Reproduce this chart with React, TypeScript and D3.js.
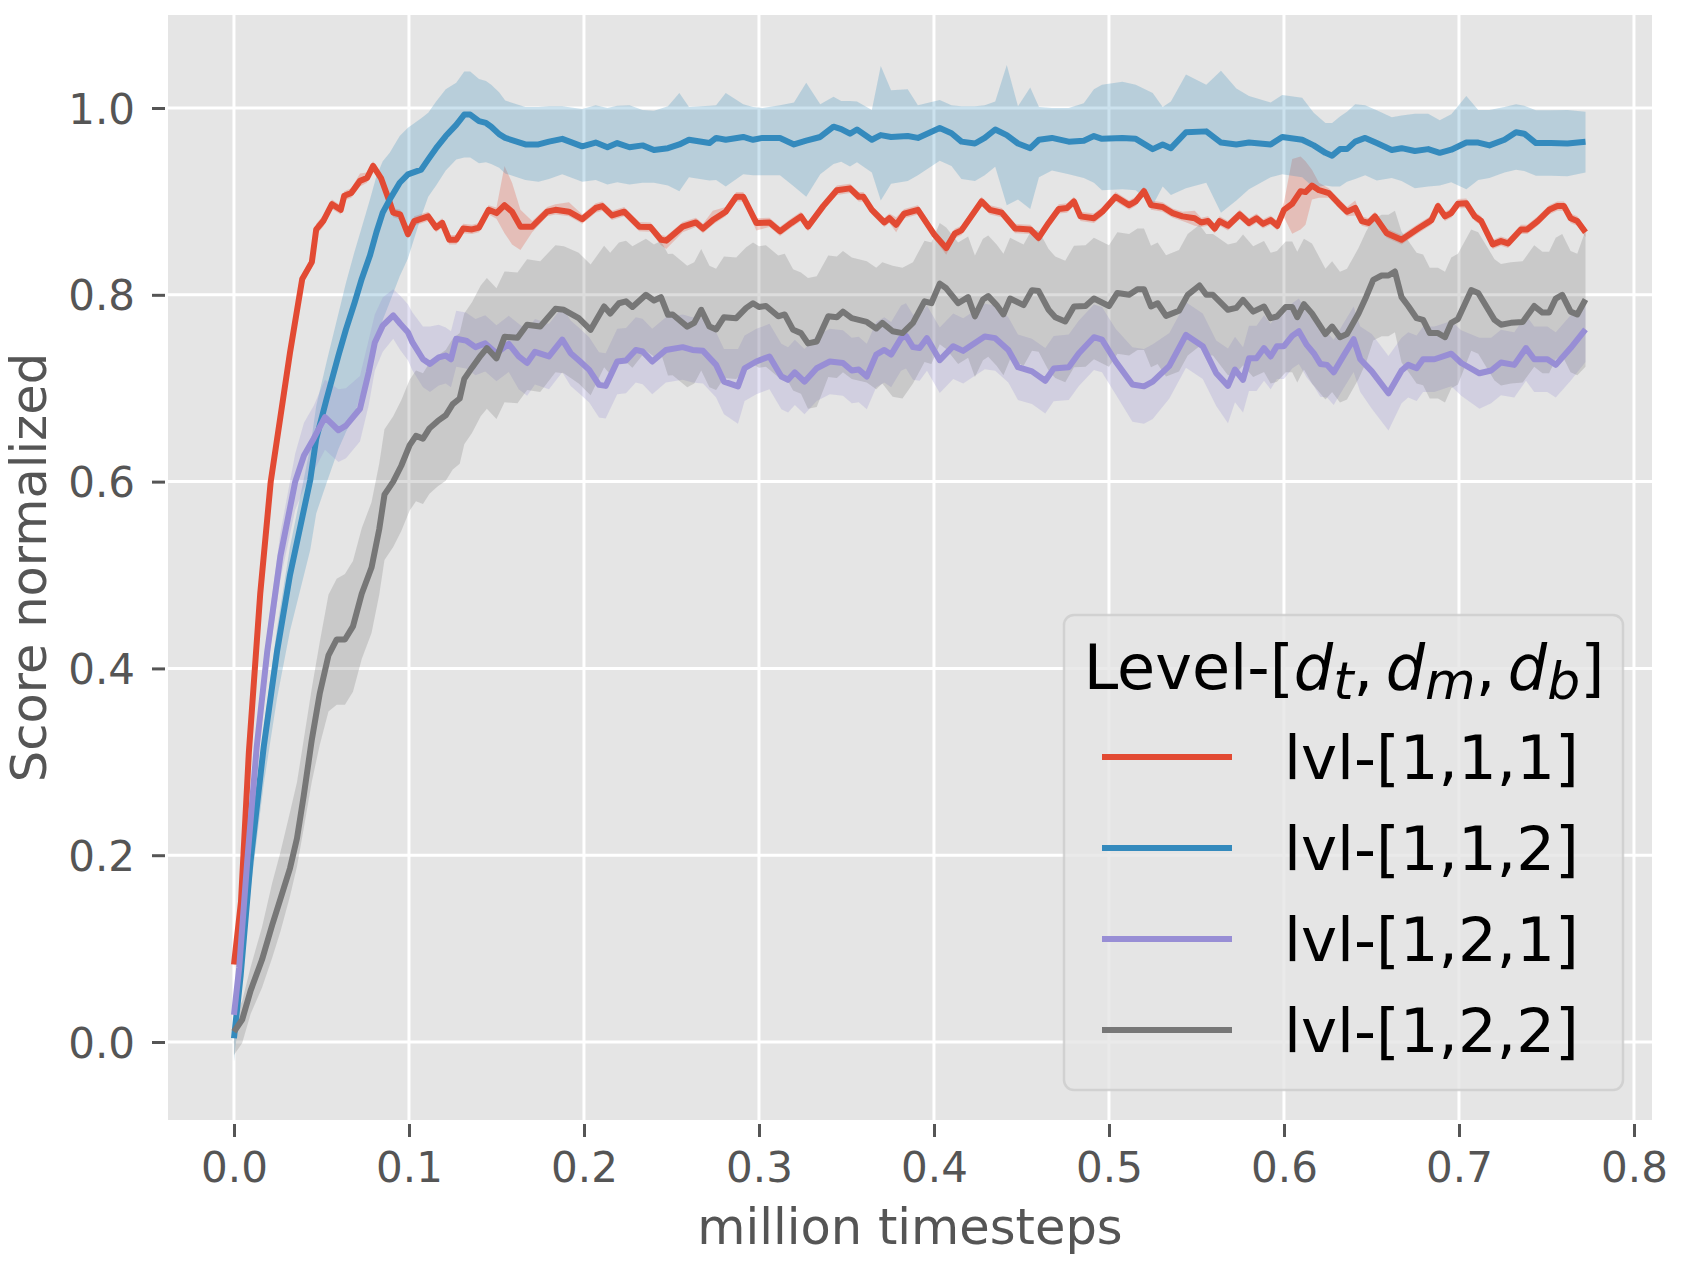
import React, { useEffect, useRef } from 'react'
import * as d3 from 'd3'

// [million timesteps, mean score, spread below, spread above]
type Pt = [number, number, number, number]

const lvl111: Pt[] = [
  [0, 0.083, 0.004, 0.004], [0.004, 0.15, 0.005, 0.005], [0.0085, 0.31, 0.005, 0.005],
  [0.015, 0.48, 0.005, 0.005], [0.021, 0.6, 0.005, 0.005], [0.032, 0.738, 0.005, 0.005],
  [0.039, 0.817, 0.005, 0.005], [0.0445, 0.835, 0.006, 0.006], [0.047, 0.87, 0.006, 0.006],
  [0.051, 0.879, 0.006, 0.006], [0.056, 0.897, 0.005, 0.005], [0.061, 0.891, 0.005, 0.005],
  [0.063, 0.906, 0.005, 0.005], [0.067, 0.909, 0.005, 0.005], [0.072, 0.922, 0.006, 0.008],
  [0.076, 0.925, 0.005, 0.006], [0.0795, 0.938, 0.005, 0.005], [0.084, 0.925, 0.005, 0.005],
  [0.089, 0.899, 0.005, 0.005], [0.091, 0.888, 0.005, 0.005], [0.095, 0.886, 0.005, 0.005],
  [0.0994, 0.865, 0.005, 0.005], [0.103, 0.879, 0.005, 0.005], [0.111, 0.884, 0.005, 0.005],
  [0.1155, 0.872, 0.005, 0.005], [0.119, 0.877, 0.005, 0.005], [0.123, 0.859, 0.005, 0.005],
  [0.127, 0.859, 0.005, 0.005], [0.131, 0.871, 0.005, 0.005], [0.136, 0.87, 0.005, 0.005],
  [0.14, 0.872, 0.005, 0.005], [0.1455, 0.891, 0.005, 0.005], [0.15, 0.8875, 0.006, 0.006],
  [0.1546, 0.896, 0.03, 0.042], [0.1589, 0.889, 0.035, 0.031], [0.1637, 0.873, 0.025, 0.018],
  [0.1704, 0.873, 0.006, 0.006], [0.179, 0.889, 0.005, 0.005], [0.1837, 0.891, 0.005, 0.006],
  [0.1914, 0.889, 0.005, 0.01], [0.199, 0.881, 0.005, 0.005], [0.2067, 0.893, 0.005, 0.005],
  [0.2105, 0.895, 0.005, 0.005], [0.216, 0.885, 0.005, 0.005], [0.223, 0.889, 0.005, 0.005],
  [0.2316, 0.873, 0.005, 0.005], [0.238, 0.8725, 0.005, 0.005], [0.244, 0.859, 0.006, 0.005],
  [0.247, 0.858, 0.009, 0.005], [0.2564, 0.873, 0.006, 0.005], [0.264, 0.8775, 0.005, 0.005],
  [0.268, 0.871, 0.005, 0.005], [0.2736, 0.88, 0.005, 0.01], [0.281, 0.889, 0.005, 0.005],
  [0.287, 0.905, 0.005, 0.005], [0.291, 0.905, 0.005, 0.005], [0.2985, 0.877, 0.008, 0.005],
  [0.306, 0.8775, 0.005, 0.005], [0.312, 0.868, 0.005, 0.005], [0.3185, 0.877, 0.005, 0.005],
  [0.324, 0.884, 0.005, 0.005], [0.328, 0.873, 0.005, 0.005], [0.3367, 0.895, 0.005, 0.005],
  [0.3445, 0.912, 0.005, 0.005], [0.352, 0.914, 0.005, 0.005], [0.357, 0.905, 0.005, 0.005],
  [0.3597, 0.905, 0.005, 0.005], [0.3645, 0.891, 0.005, 0.005], [0.3716, 0.8775, 0.005, 0.005],
  [0.3745, 0.882, 0.005, 0.005], [0.3784, 0.875, 0.008, 0.008], [0.383, 0.887, 0.005, 0.005],
  [0.3908, 0.891, 0.005, 0.005], [0.4004, 0.864, 0.005, 0.005], [0.407, 0.85, 0.007, 0.005],
  [0.4119, 0.8657, 0.005, 0.005], [0.4157, 0.869, 0.005, 0.005], [0.4272, 0.9, 0.005, 0.005],
  [0.432, 0.891, 0.005, 0.005], [0.4387, 0.888, 0.005, 0.005], [0.4464, 0.871, 0.005, 0.005],
  [0.455, 0.87, 0.005, 0.005], [0.4598, 0.861, 0.005, 0.005], [0.4655, 0.877, 0.005, 0.005],
  [0.4713, 0.892, 0.005, 0.005], [0.476, 0.893, 0.005, 0.005], [0.48, 0.9, 0.005, 0.005],
  [0.4837, 0.884, 0.005, 0.005], [0.4914, 0.882, 0.005, 0.005], [0.4962, 0.889, 0.005, 0.005],
  [0.5038, 0.905, 0.005, 0.005], [0.5115, 0.896, 0.005, 0.005], [0.5153, 0.9, 0.005, 0.005],
  [0.52, 0.911, 0.005, 0.005], [0.524, 0.896, 0.005, 0.005], [0.5307, 0.894, 0.005, 0.005],
  [0.5364, 0.8875, 0.005, 0.005], [0.542, 0.884, 0.005, 0.005], [0.549, 0.882, 0.008, 0.008],
  [0.5527, 0.8775, 0.005, 0.005], [0.5566, 0.879, 0.005, 0.005], [0.5604, 0.871, 0.005, 0.005],
  [0.5632, 0.879, 0.005, 0.005], [0.568, 0.874, 0.005, 0.005], [0.5747, 0.886, 0.005, 0.005],
  [0.58, 0.877, 0.005, 0.005], [0.5843, 0.882, 0.005, 0.005], [0.588, 0.876, 0.005, 0.005],
  [0.5924, 0.88, 0.005, 0.005], [0.5962, 0.874, 0.005, 0.005], [0.6, 0.891, 0.008, 0.008],
  [0.6047, 0.8975, 0.032, 0.048], [0.6095, 0.911, 0.041, 0.037], [0.6123, 0.91, 0.035, 0.033],
  [0.616, 0.917, 0.015, 0.017], [0.62, 0.912, 0.008, 0.008], [0.6256, 0.909, 0.005, 0.005],
  [0.6312, 0.898, 0.005, 0.005], [0.636, 0.889, 0.005, 0.005], [0.6407, 0.893, 0.008, 0.008],
  [0.6445, 0.879, 0.005, 0.005], [0.6483, 0.877, 0.005, 0.005], [0.652, 0.884, 0.005, 0.005],
  [0.6587, 0.866, 0.005, 0.005], [0.6672, 0.859, 0.005, 0.005], [0.6767, 0.871, 0.005, 0.005],
  [0.6843, 0.88, 0.005, 0.005], [0.688, 0.895, 0.005, 0.005], [0.692, 0.884, 0.005, 0.005],
  [0.6956, 0.8875, 0.005, 0.005], [0.6994, 0.8975, 0.005, 0.005], [0.7042, 0.898, 0.005, 0.005],
  [0.709, 0.884, 0.005, 0.005], [0.7127, 0.879, 0.005, 0.005], [0.7193, 0.854, 0.005, 0.005],
  [0.724, 0.8575, 0.005, 0.005], [0.728, 0.855, 0.005, 0.005], [0.7354, 0.87, 0.005, 0.005],
  [0.739, 0.87, 0.005, 0.005], [0.745, 0.879, 0.005, 0.005], [0.7515, 0.891, 0.005, 0.005],
  [0.7562, 0.895, 0.005, 0.005], [0.76, 0.895, 0.005, 0.005], [0.7638, 0.882, 0.005, 0.005],
  [0.7676, 0.879, 0.005, 0.005], [0.7723, 0.867, 0.005, 0.005],
]

const lvl112: Pt[] = [
  [0, 0.004, 0.025, 0.01], [0.0038, 0.071, 0.025, 0.015], [0.0095, 0.194, 0.03, 0.02],
  [0.017, 0.316, 0.04, 0.02], [0.0246, 0.418, 0.05, 0.025], [0.032, 0.5, 0.06, 0.03],
  [0.0436, 0.602, 0.075, 0.035], [0.047, 0.646, 0.08, 0.035], [0.053, 0.689, 0.09, 0.04],
  [0.0597, 0.735, 0.1, 0.045], [0.064, 0.763, 0.11, 0.05], [0.069, 0.792, 0.12, 0.055],
  [0.073, 0.817, 0.12, 0.055], [0.0777, 0.842, 0.125, 0.06], [0.0814, 0.867, 0.12, 0.06],
  [0.085, 0.888, 0.115, 0.055], [0.089, 0.902, 0.11, 0.05], [0.0947, 0.92, 0.1, 0.05],
  [0.0994, 0.929, 0.09, 0.05], [0.107, 0.934, 0.05, 0.055], [0.111, 0.945, 0.04, 0.05],
  [0.1155, 0.957, 0.04, 0.05], [0.121, 0.97, 0.037, 0.05], [0.127, 0.982, 0.037, 0.045],
  [0.1316, 0.993, 0.046, 0.046], [0.135, 0.993, 0.046, 0.046], [0.14, 0.986, 0.045, 0.045],
  [0.144, 0.984, 0.042, 0.045], [0.147, 0.98, 0.04, 0.045], [0.1515, 0.972, 0.036, 0.045],
  [0.155, 0.968, 0.038, 0.04], [0.1665, 0.961, 0.038, 0.04], [0.174, 0.961, 0.04, 0.04],
  [0.18, 0.964, 0.04, 0.038], [0.1876, 0.967, 0.038, 0.035], [0.199, 0.959, 0.038, 0.04],
  [0.2067, 0.963, 0.04, 0.04], [0.2134, 0.958, 0.04, 0.042], [0.219, 0.9625, 0.042, 0.04],
  [0.226, 0.958, 0.04, 0.045], [0.2335, 0.96, 0.04, 0.038], [0.24, 0.955, 0.035, 0.042],
  [0.248, 0.957, 0.04, 0.045], [0.2545, 0.961, 0.05, 0.055], [0.26, 0.966, 0.04, 0.035],
  [0.2717, 0.9625, 0.04, 0.04], [0.2755, 0.968, 0.045, 0.035], [0.281, 0.966, 0.05, 0.05],
  [0.291, 0.969, 0.04, 0.035], [0.2966, 0.966, 0.038, 0.035], [0.302, 0.968, 0.04, 0.032],
  [0.312, 0.968, 0.04, 0.035], [0.32, 0.961, 0.045, 0.045], [0.327, 0.965, 0.06, 0.062],
  [0.335, 0.969, 0.04, 0.035], [0.3426, 0.98, 0.04, 0.032], [0.347, 0.9775, 0.035, 0.03],
  [0.352, 0.9725, 0.035, 0.035], [0.356, 0.977, 0.035, 0.03], [0.3645, 0.966, 0.035, 0.032],
  [0.3696, 0.971, 0.07, 0.074], [0.3755, 0.969, 0.05, 0.05], [0.385, 0.97, 0.048, 0.05],
  [0.3908, 0.968, 0.04, 0.035], [0.4033, 0.9786, 0.035, 0.03], [0.41, 0.973, 0.035, 0.03],
  [0.4157, 0.964, 0.04, 0.038], [0.4234, 0.962, 0.04, 0.04], [0.429, 0.968, 0.04, 0.035],
  [0.435, 0.977, 0.04, 0.03], [0.4416, 0.971, 0.075, 0.075], [0.448, 0.962, 0.06, 0.04],
  [0.455, 0.957, 0.065, 0.065], [0.46, 0.966, 0.04, 0.035], [0.4674, 0.968, 0.035, 0.032],
  [0.477, 0.964, 0.035, 0.036], [0.4856, 0.965, 0.04, 0.04], [0.4914, 0.97, 0.05, 0.05],
  [0.496, 0.967, 0.055, 0.058], [0.5077, 0.968, 0.055, 0.06], [0.5153, 0.967, 0.055, 0.058],
  [0.525, 0.956, 0.06, 0.06], [0.5307, 0.961, 0.045, 0.04], [0.5354, 0.957, 0.05, 0.05],
  [0.544, 0.974, 0.06, 0.062], [0.5556, 0.975, 0.055, 0.05], [0.564, 0.963, 0.075, 0.077],
  [0.5728, 0.961, 0.06, 0.06], [0.58, 0.963, 0.05, 0.05], [0.5924, 0.961, 0.035, 0.045],
  [0.599, 0.969, 0.04, 0.045], [0.6104, 0.966, 0.04, 0.045], [0.617, 0.96, 0.045, 0.035],
  [0.6237, 0.952, 0.035, 0.032], [0.6275, 0.949, 0.033, 0.035], [0.632, 0.956, 0.04, 0.035],
  [0.636, 0.956, 0.035, 0.04], [0.6407, 0.964, 0.04, 0.04], [0.6464, 0.968, 0.04, 0.035],
  [0.653, 0.9625, 0.04, 0.035], [0.6616, 0.955, 0.03, 0.035], [0.6672, 0.957, 0.035, 0.035],
  [0.6748, 0.954, 0.04, 0.04], [0.6824, 0.956, 0.04, 0.038], [0.689, 0.952, 0.035, 0.035],
  [0.6956, 0.9554, 0.035, 0.038], [0.7042, 0.963, 0.05, 0.05], [0.711, 0.963, 0.04, 0.035],
  [0.7174, 0.96, 0.035, 0.038], [0.726, 0.966, 0.035, 0.035], [0.7326, 0.974, 0.04, 0.03],
  [0.7373, 0.9725, 0.04, 0.03], [0.744, 0.9625, 0.035, 0.035], [0.7525, 0.9625, 0.035, 0.035],
  [0.762, 0.962, 0.035, 0.036], [0.7723, 0.964, 0.033, 0.032],
]

const lvl121: Pt[] = [
  [0, 0.029, 0.01, 0.01], [0.003, 0.08, 0.012, 0.012], [0.0076, 0.194, 0.015, 0.015],
  [0.013, 0.316, 0.018, 0.018], [0.019, 0.418, 0.02, 0.02], [0.0265, 0.52, 0.025, 0.025],
  [0.035, 0.6, 0.03, 0.03], [0.04, 0.628, 0.035, 0.035], [0.0455, 0.646, 0.035, 0.035],
  [0.052, 0.669, 0.035, 0.04], [0.0597, 0.655, 0.034, 0.044], [0.064, 0.66, 0.035, 0.04],
  [0.072, 0.678, 0.035, 0.035], [0.077, 0.717, 0.035, 0.035], [0.0805, 0.749, 0.03, 0.03],
  [0.085, 0.767, 0.028, 0.03], [0.091, 0.778, 0.025, 0.028], [0.095, 0.769, 0.028, 0.03],
  [0.0994, 0.76, 0.03, 0.03], [0.102, 0.749, 0.03, 0.032], [0.108, 0.731, 0.03, 0.035],
  [0.112, 0.726, 0.03, 0.04], [0.117, 0.733, 0.03, 0.035], [0.121, 0.735, 0.03, 0.03],
  [0.124, 0.731, 0.03, 0.03], [0.127, 0.753, 0.03, 0.03], [0.1326, 0.751, 0.03, 0.03],
  [0.138, 0.744, 0.03, 0.03], [0.1436, 0.748, 0.03, 0.03], [0.15, 0.7375, 0.03, 0.03],
  [0.157, 0.7475, 0.03, 0.03], [0.1627, 0.734, 0.035, 0.035], [0.1675, 0.727, 0.035, 0.035],
  [0.172, 0.739, 0.035, 0.035], [0.18, 0.734, 0.035, 0.035], [0.1876, 0.752, 0.035, 0.035],
  [0.1924, 0.7375, 0.035, 0.035], [0.197, 0.73, 0.035, 0.035], [0.203, 0.7196, 0.035, 0.035],
  [0.2086, 0.7036, 0.035, 0.035], [0.2124, 0.7025, 0.035, 0.035], [0.219, 0.7286, 0.035, 0.035],
  [0.224, 0.7296, 0.035, 0.035], [0.2296, 0.741, 0.035, 0.035], [0.2335, 0.7393, 0.035, 0.035],
  [0.239, 0.7286, 0.035, 0.035], [0.2468, 0.741, 0.035, 0.035], [0.2564, 0.744, 0.035, 0.035],
  [0.262, 0.741, 0.035, 0.035], [0.268, 0.74, 0.035, 0.035], [0.2755, 0.725, 0.035, 0.035],
  [0.28, 0.7071, 0.035, 0.035], [0.288, 0.702, 0.04, 0.04], [0.2918, 0.7214, 0.035, 0.035],
  [0.2985, 0.7286, 0.035, 0.035], [0.306, 0.734, 0.035, 0.035], [0.3128, 0.7125, 0.035, 0.035],
  [0.3166, 0.709, 0.035, 0.035], [0.3205, 0.717, 0.035, 0.035], [0.326, 0.707, 0.035, 0.035],
  [0.333, 0.7214, 0.035, 0.035], [0.3405, 0.7286, 0.035, 0.035], [0.348, 0.727, 0.035, 0.035],
  [0.353, 0.719, 0.035, 0.035], [0.357, 0.72, 0.035, 0.035], [0.3616, 0.7125, 0.035, 0.035],
  [0.367, 0.736, 0.035, 0.035], [0.3716, 0.741, 0.035, 0.035], [0.3755, 0.736, 0.035, 0.035],
  [0.3812, 0.7536, 0.035, 0.035], [0.384, 0.756, 0.035, 0.035], [0.388, 0.744, 0.035, 0.035],
  [0.3918, 0.743, 0.035, 0.035], [0.396, 0.7536, 0.035, 0.035], [0.4033, 0.73, 0.035, 0.035],
  [0.411, 0.745, 0.035, 0.035], [0.4167, 0.74, 0.035, 0.035], [0.429, 0.7554, 0.035, 0.035],
  [0.435, 0.7536, 0.035, 0.035], [0.4425, 0.741, 0.035, 0.035], [0.448, 0.7225, 0.035, 0.035],
  [0.456, 0.718, 0.035, 0.035], [0.4636, 0.708, 0.035, 0.035], [0.4684, 0.721, 0.035, 0.035],
  [0.477, 0.7225, 0.035, 0.035], [0.4828, 0.7375, 0.035, 0.035], [0.4914, 0.7546, 0.035, 0.035],
  [0.496, 0.752, 0.035, 0.035], [0.5038, 0.7286, 0.035, 0.035], [0.5134, 0.704, 0.04, 0.04],
  [0.52, 0.702, 0.04, 0.04], [0.525, 0.707, 0.04, 0.04], [0.5345, 0.724, 0.035, 0.035],
  [0.544, 0.757, 0.035, 0.035], [0.5536, 0.745, 0.035, 0.035], [0.5613, 0.716, 0.035, 0.035],
  [0.568, 0.7025, 0.04, 0.04], [0.572, 0.72, 0.035, 0.035], [0.5766, 0.709, 0.035, 0.035],
  [0.58, 0.732, 0.035, 0.035], [0.5843, 0.732, 0.035, 0.035], [0.5886, 0.743, 0.035, 0.035],
  [0.5924, 0.734, 0.035, 0.035], [0.596, 0.745, 0.035, 0.035], [0.6, 0.745, 0.035, 0.035],
  [0.6047, 0.756, 0.035, 0.035], [0.6085, 0.761, 0.035, 0.035], [0.613, 0.7464, 0.035, 0.035],
  [0.617, 0.7375, 0.035, 0.035], [0.6208, 0.726, 0.035, 0.035], [0.6246, 0.725, 0.035, 0.035],
  [0.6284, 0.717, 0.035, 0.035], [0.634, 0.7346, 0.035, 0.035], [0.6398, 0.7525, 0.035, 0.035],
  [0.6436, 0.731, 0.035, 0.035], [0.6502, 0.718, 0.04, 0.04], [0.6597, 0.6946, 0.04, 0.04],
  [0.6672, 0.719, 0.035, 0.035], [0.671, 0.725, 0.035, 0.035], [0.6758, 0.7214, 0.035, 0.035],
  [0.6795, 0.731, 0.035, 0.035], [0.686, 0.731, 0.035, 0.035], [0.6956, 0.737, 0.035, 0.035],
  [0.7013, 0.727, 0.035, 0.035], [0.7117, 0.716, 0.038, 0.038], [0.7184, 0.719, 0.035, 0.035],
  [0.724, 0.7275, 0.035, 0.035], [0.7316, 0.725, 0.035, 0.035], [0.7383, 0.743, 0.035, 0.035],
  [0.743, 0.731, 0.035, 0.035], [0.7505, 0.731, 0.035, 0.035], [0.7553, 0.725, 0.035, 0.035],
  [0.7638, 0.743, 0.035, 0.035], [0.7723, 0.763, 0.035, 0.025],
]

const lvl122: Pt[] = [
  [0, 0.011, 0.025, 0.015], [0.0047, 0.024, 0.025, 0.02], [0.0095, 0.055, 0.025, 0.025],
  [0.016, 0.088, 0.03, 0.035], [0.0218, 0.125, 0.035, 0.045], [0.0265, 0.153, 0.035, 0.05],
  [0.032, 0.186, 0.03, 0.06], [0.036, 0.218, 0.03, 0.06], [0.0398, 0.263, 0.035, 0.06],
  [0.0445, 0.324, 0.045, 0.055], [0.049, 0.373, 0.055, 0.055], [0.054, 0.414, 0.06, 0.065],
  [0.0587, 0.431, 0.07, 0.065], [0.0634, 0.431, 0.07, 0.07], [0.068, 0.445, 0.07, 0.07],
  [0.073, 0.48, 0.07, 0.07], [0.0786, 0.508, 0.07, 0.07], [0.083, 0.549, 0.07, 0.07],
  [0.086, 0.586, 0.07, 0.07], [0.091, 0.6, 0.07, 0.07], [0.0956, 0.617, 0.07, 0.07],
  [0.1004, 0.639, 0.07, 0.07], [0.104, 0.649, 0.07, 0.07], [0.108, 0.646, 0.07, 0.07],
  [0.1117, 0.657, 0.07, 0.07], [0.1165, 0.665, 0.07, 0.07], [0.121, 0.671, 0.07, 0.07],
  [0.125, 0.683, 0.07, 0.07], [0.129, 0.689, 0.07, 0.07], [0.1316, 0.71, 0.07, 0.07],
  [0.136, 0.722, 0.07, 0.07], [0.141, 0.735, 0.065, 0.075], [0.1445, 0.743, 0.065, 0.075],
  [0.15, 0.732, 0.065, 0.075], [0.1546, 0.755, 0.07, 0.07], [0.162, 0.754, 0.07, 0.07],
  [0.1675, 0.768, 0.07, 0.07], [0.175, 0.766, 0.07, 0.07], [0.1837, 0.785, 0.068, 0.068],
  [0.1885, 0.784, 0.068, 0.068], [0.197, 0.775, 0.07, 0.07], [0.2038, 0.7625, 0.07, 0.07],
  [0.2115, 0.7875, 0.065, 0.065], [0.215, 0.78, 0.065, 0.065], [0.22, 0.791, 0.065, 0.065],
  [0.224, 0.793, 0.065, 0.065], [0.2277, 0.787, 0.065, 0.065], [0.2354, 0.8, 0.06, 0.06],
  [0.24, 0.794, 0.06, 0.06], [0.244, 0.7975, 0.06, 0.06], [0.248, 0.7786, 0.065, 0.065],
  [0.2507, 0.779, 0.065, 0.065], [0.259, 0.766, 0.065, 0.065], [0.263, 0.77, 0.065, 0.065],
  [0.267, 0.784, 0.065, 0.065], [0.2717, 0.766, 0.065, 0.065], [0.2755, 0.763, 0.065, 0.065],
  [0.28, 0.776, 0.065, 0.065], [0.287, 0.775, 0.065, 0.065], [0.2927, 0.786, 0.065, 0.065],
  [0.2966, 0.791, 0.065, 0.065], [0.3, 0.787, 0.065, 0.065], [0.304, 0.788, 0.065, 0.065],
  [0.311, 0.777, 0.065, 0.065], [0.3147, 0.779, 0.065, 0.065], [0.3195, 0.7625, 0.065, 0.065],
  [0.324, 0.759, 0.065, 0.065], [0.328, 0.748, 0.07, 0.07], [0.333, 0.75, 0.07, 0.07],
  [0.3396, 0.777, 0.065, 0.065], [0.3445, 0.776, 0.065, 0.065], [0.348, 0.782, 0.065, 0.065],
  [0.353, 0.775, 0.065, 0.065], [0.3616, 0.771, 0.065, 0.065], [0.367, 0.764, 0.065, 0.065],
  [0.3705, 0.77, 0.065, 0.065], [0.3764, 0.761, 0.07, 0.07], [0.382, 0.759, 0.07, 0.07],
  [0.388, 0.77, 0.065, 0.065], [0.3946, 0.793, 0.065, 0.065], [0.3985, 0.791, 0.065, 0.065],
  [0.4033, 0.812, 0.065, 0.065], [0.407, 0.807, 0.065, 0.065], [0.4138, 0.791, 0.065, 0.065],
  [0.4195, 0.7975, 0.065, 0.065], [0.4234, 0.777, 0.065, 0.065], [0.428, 0.795, 0.065, 0.065],
  [0.431, 0.7986, 0.065, 0.065], [0.4358, 0.789, 0.065, 0.065], [0.4397, 0.779, 0.065, 0.065],
  [0.4435, 0.796, 0.065, 0.065], [0.4512, 0.789, 0.065, 0.065], [0.456, 0.805, 0.065, 0.065],
  [0.4598, 0.804, 0.065, 0.065], [0.4655, 0.784, 0.065, 0.065], [0.4693, 0.776, 0.065, 0.065],
  [0.475, 0.7714, 0.065, 0.065], [0.48, 0.7875, 0.065, 0.065], [0.4866, 0.788, 0.065, 0.065],
  [0.4914, 0.796, 0.065, 0.065], [0.5, 0.788, 0.065, 0.065], [0.5048, 0.802, 0.065, 0.065],
  [0.5115, 0.8, 0.065, 0.065], [0.5163, 0.806, 0.065, 0.065], [0.52, 0.806, 0.065, 0.065],
  [0.524, 0.7875, 0.065, 0.065], [0.5278, 0.791, 0.065, 0.065], [0.5326, 0.7775, 0.065, 0.065],
  [0.54, 0.783, 0.065, 0.065], [0.545, 0.8, 0.065, 0.065], [0.5517, 0.81, 0.065, 0.065],
  [0.5556, 0.8, 0.065, 0.065], [0.5594, 0.8, 0.065, 0.065], [0.568, 0.784, 0.07, 0.07],
  [0.5728, 0.786, 0.07, 0.07], [0.5766, 0.7946, 0.07, 0.07], [0.5824, 0.782, 0.07, 0.07],
  [0.5886, 0.7875, 0.07, 0.07], [0.5924, 0.775, 0.07, 0.07], [0.596, 0.7768, 0.07, 0.07],
  [0.601, 0.787, 0.07, 0.07], [0.6047, 0.787, 0.07, 0.07], [0.6076, 0.776, 0.07, 0.07],
  [0.6114, 0.79, 0.07, 0.07], [0.616, 0.78, 0.075, 0.075], [0.6237, 0.758, 0.07, 0.07],
  [0.6275, 0.766, 0.07, 0.07], [0.632, 0.7546, 0.07, 0.07], [0.636, 0.758, 0.07, 0.07],
  [0.6426, 0.78, 0.07, 0.07], [0.647, 0.798, 0.07, 0.07], [0.651, 0.816, 0.065, 0.065],
  [0.6558, 0.8207, 0.065, 0.065], [0.6597, 0.8207, 0.065, 0.065], [0.6634, 0.825, 0.065, 0.065],
  [0.6672, 0.7975, 0.07, 0.07], [0.671, 0.788, 0.07, 0.07], [0.6758, 0.775, 0.07, 0.07],
  [0.6795, 0.7732, 0.07, 0.07], [0.6833, 0.759, 0.07, 0.07], [0.688, 0.759, 0.07, 0.07],
  [0.692, 0.7546, 0.07, 0.07], [0.6956, 0.77, 0.07, 0.07], [0.6994, 0.774, 0.07, 0.07],
  [0.707, 0.805, 0.065, 0.065], [0.711, 0.802, 0.065, 0.065], [0.7203, 0.7732, 0.065, 0.065],
  [0.724, 0.768, 0.065, 0.065], [0.7297, 0.77, 0.065, 0.065], [0.7364, 0.771, 0.065, 0.065],
  [0.743, 0.788, 0.065, 0.065], [0.7477, 0.781, 0.065, 0.065], [0.7515, 0.781, 0.065, 0.065],
  [0.7553, 0.796, 0.065, 0.065], [0.759, 0.8, 0.065, 0.065], [0.7638, 0.782, 0.065, 0.065],
  [0.7676, 0.779, 0.065, 0.065], [0.7723, 0.795, 0.072, 0.074],
]

const seriesData = [lvl111, lvl112, lvl121, lvl122]
const seriesNames = ['lvl-[1,1,1]', 'lvl-[1,1,2]', 'lvl-[1,2,1]', 'lvl-[1,2,2]']
const seriesColors = ['#E24A33', '#348ABD', '#988ED5', '#777777']

const xTicks = [0, 0.1, 0.2, 0.3, 0.4, 0.5, 0.6, 0.7, 0.8]
const yTicks = [0, 0.2, 0.4, 0.6, 0.8, 1.0]
const xDomain = [-0.0377, 0.8103]
const yDomain = [-0.0835, 1.0996]

const W = 1699
const H = 1280
const plot = { left: 168, right: 1652, top: 15, bottom: 1120 }
const FONT = '"DejaVu Sans", sans-serif'

export default function App() {
  const svgRef = useRef<SVGSVGElement>(null)

  useEffect(() => {
    if (!svgRef.current) return
    const svg = d3.select(svgRef.current)
    svg.selectAll('*').remove()

    const x = d3.scaleLinear().domain(xDomain).range([plot.left, plot.right])
    const y = d3.scaleLinear().domain(yDomain).range([plot.bottom, plot.top])

    // axes background
    svg.append('rect')
      .attr('x', plot.left)
      .attr('y', plot.top)
      .attr('width', plot.right - plot.left)
      .attr('height', plot.bottom - plot.top)
      .attr('fill', '#E5E5E5')

    // white grid
    const grid = svg.append('g')
    grid.selectAll('line.gx')
      .data(xTicks)
      .join('line')
      .attr('class', 'gx')
      .attr('x1', (d) => x(d))
      .attr('x2', (d) => x(d))
      .attr('y1', plot.top)
      .attr('y2', plot.bottom)
    grid.selectAll('line.gy')
      .data(yTicks)
      .join('line')
      .attr('class', 'gy')
      .attr('x1', plot.left)
      .attr('x2', plot.right)
      .attr('y1', (d) => y(d))
      .attr('y2', (d) => y(d))
    grid.selectAll('line').attr('stroke', '#FFFFFF').attr('stroke-width', 3)

    svg.append('defs')
      .append('clipPath')
      .attr('id', 'plot-clip')
      .append('rect')
      .attr('x', plot.left)
      .attr('y', plot.top)
      .attr('width', plot.right - plot.left)
      .attr('height', plot.bottom - plot.top)

    const g = svg.append('g').attr('clip-path', 'url(#plot-clip)')

    const band = d3.area<Pt>()
      .x((d) => x(d[0]))
      .y0((d) => y(d[1] - d[2]))
      .y1((d) => y(d[1] + d[3]))

    const line = d3.line<Pt>()
      .x((d) => x(d[0]))
      .y((d) => y(d[1]))

    seriesData.forEach((data, i) => {
      g.append('path')
        .datum(data)
        .attr('d', band)
        .attr('fill', seriesColors[i])
        .attr('fill-opacity', 0.25)
    })

    seriesData.forEach((data, i) => {
      g.append('path')
        .datum(data)
        .attr('d', line)
        .attr('fill', 'none')
        .attr('stroke', seriesColors[i])
        .attr('stroke-width', 6)
        .attr('stroke-linejoin', 'round')
    })

    // x axis
    const xAxis = svg.append('g')
      .attr('transform', `translate(0,${plot.bottom + 4})`)
      .call(
        d3.axisBottom(x)
          .tickValues(xTicks)
          .tickSize(13)
          .tickPadding(15)
          .tickFormat((d) => d3.format('.1f')(d as number))
      )
    // y axis
    const yAxis = svg.append('g')
      .attr('transform', `translate(${plot.left - 3},0)`)
      .call(
        d3.axisLeft(y)
          .tickValues(yTicks)
          .tickSize(13)
          .tickPadding(17)
          .tickFormat((d) => d3.format('.1f')(d as number))
      )
    yAxis.selectAll('.tick text').attr('dy', '0.36em')

    for (const ax of [xAxis, yAxis]) {
      ax.select('.domain').remove()
      ax.attr('font-family', FONT).attr('font-size', 42)
      ax.selectAll('.tick line').attr('stroke', '#555555').attr('stroke-width', 3)
      ax.selectAll('.tick text').attr('fill', '#555555')
    }

    // axis labels
    svg.append('text')
      .attr('x', (plot.left + plot.right) / 2)
      .attr('y', 1244)
      .attr('text-anchor', 'middle')
      .attr('font-family', FONT)
      .attr('font-size', 49.5)
      .attr('fill', '#555555')
      .text('million timesteps')

    svg.append('text')
      .attr('transform', `translate(46,${(plot.top + plot.bottom) / 2}) rotate(-90)`)
      .attr('text-anchor', 'middle')
      .attr('font-family', FONT)
      .attr('font-size', 49.5)
      .attr('fill', '#555555')
      .text('Score normalized')

    // legend
    const lg = svg.append('g').attr('font-family', FONT)
    lg.append('rect')
      .attr('x', 1064)
      .attr('y', 615)
      .attr('width', 559)
      .attr('height', 475)
      .attr('rx', 10)
      .attr('fill', '#E5E5E5')
      .attr('fill-opacity', 0.8)
      .attr('stroke', '#CCCCCC')
      .attr('stroke-opacity', 0.8)
      .attr('stroke-width', 2.5)

    const title = lg.append('text')
      .attr('x', 1344)
      .attr('y', 689)
      .attr('text-anchor', 'middle')
      .attr('font-size', 62)
      .attr('fill', '#000000')
    title.append('tspan').text('Level-[')
    const subs = ['t', 'm', 'b']
    subs.forEach((s, i) => {
      title.append('tspan').attr('font-style', 'italic').text('d')
      title.append('tspan')
        .attr('font-style', 'italic')
        .attr('font-size', 52)
        .attr('dy', 10)
        .text(s)
      title.append('tspan')
        .attr('dy', -10)
        .text(i < subs.length - 1 ? ',\u2009' : ']')
    })

    const rows = lg.selectAll('g.row')
      .data(seriesNames)
      .join('g')
      .attr('class', 'row')
      .attr('transform', (d, i) => `translate(0,${757 + i * 91})`)
    rows.append('line')
      .attr('x1', 1102)
      .attr('x2', 1232)
      .attr('y1', 0)
      .attr('y2', 0)
      .attr('stroke', (d, i) => seriesColors[i])
      .attr('stroke-width', 6)
    rows.append('text')
      .attr('x', 1284)
      .attr('y', 22)
      .attr('font-size', 61)
      .attr('fill', '#000000')
      .text((d) => d)
  }, [])

  return (
    <svg
      ref={svgRef}
      width={W}
      height={H}
      style={{ position: 'absolute', left: 0, top: 0, display: 'block', background: '#FFFFFF' }}
    />
  )
}
